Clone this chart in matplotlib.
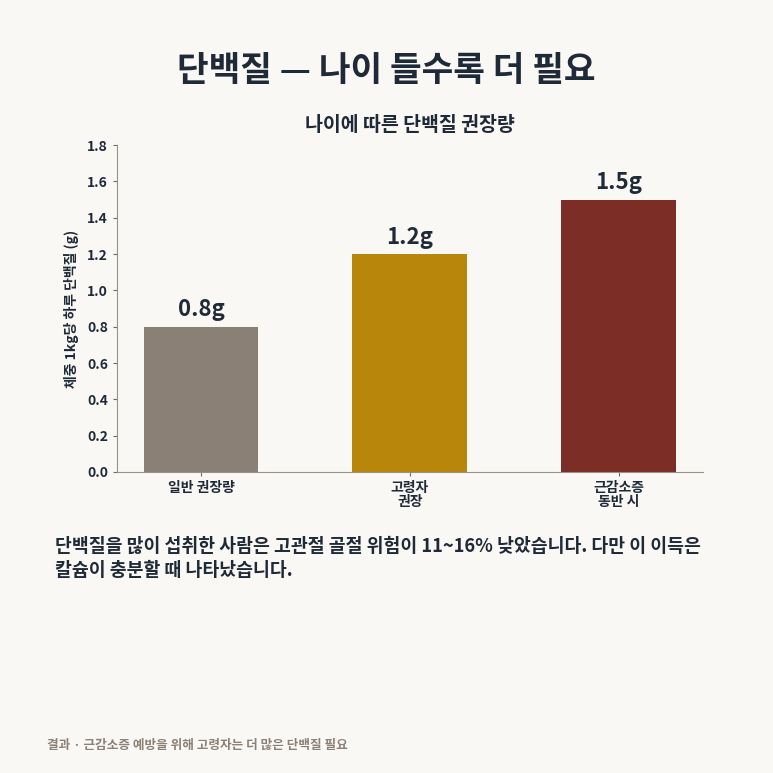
import matplotlib
matplotlib.use("Agg")
import matplotlib.pyplot as plt

plt.rcParams['font.family'] = ['Noto Sans CJK KR', 'DejaVu Sans']

# data
categories = ["일반 권장량", "고령자\n권장", "근감소증\n동반 시"]
values = [0.8, 1.2, 1.5]
value_labels = ["0.8g", "1.2g", "1.5g"]
colors = ["#8a8076", "#b8860b", "#7b2d26"]
yticks = [0.0, 0.2, 0.4, 0.6, 0.8, 1.0, 1.2, 1.4, 1.6, 1.8]

bg = "#faf8f4"
ink = "#1f2a38"

fig = plt.figure(figsize=(7.73, 7.73), dpi=100, facecolor=bg)
ax = fig.add_axes([0.1514, 0.3894, 0.7576, 0.423])
ax.set_facecolor(bg)

x = range(len(categories))
bars = ax.bar(x, values, width=0.55, color=colors)
for b, lab in zip(bars, value_labels):
    ax.text(b.get_x() + b.get_width() / 2, b.get_height() + 0.03, lab,
            ha="center", va="bottom", fontsize=16, fontweight="bold", color=ink)

ax.set_ylim(0, 1.8)
ax.set_yticks(yticks)
ax.set_yticklabels([f"{t:.1f}" for t in yticks], fontsize=10, fontweight="bold", color=ink)
ax.set_xticks(list(x))
ax.set_xticklabels(categories, fontsize=10, fontweight="bold", color=ink, linespacing=1.0)
ax.set_ylabel("체중 1kg당 하루 단백질 (g)", fontsize=10, fontweight="bold", color=ink, labelpad=6)
ax.set_title("나이에 따른 단백질 권장량", fontsize=14, fontweight="bold", color=ink, pad=10)

for s in ["top", "right"]:
    ax.spines[s].set_visible(False)
for s in ["left", "bottom"]:
    ax.spines[s].set_color("#9a928a")
ax.tick_params(colors="#6b6b6b", length=3)
ax.tick_params(axis="both", labelcolor=ink)

fig.text(0.5, 0.909, "단백질 — 나이 들수록 더 필요", ha="center", va="center",
         fontsize=24.8, fontweight="bold", color=ink)
fig.text(0.071, 0.2775, "단백질을 많이 섭취한 사람은 고관절 골절 위험이 11~16% 낮았습니다. 다만 이 이득은\n칼슘이 충분할 때 나타났습니다.",
         ha="left", va="center", fontsize=13.2, fontweight="bold", color=ink, linespacing=1.35)
fig.text(0.061, 0.035, "결과 · 근감소증 예방을 위해 고령자는 더 많은 단백질 필요", ha="left", va="center",
         fontsize=9.1, fontweight="bold", color="#8a8076")

fig.savefig("out.png", dpi=100, facecolor=bg)
